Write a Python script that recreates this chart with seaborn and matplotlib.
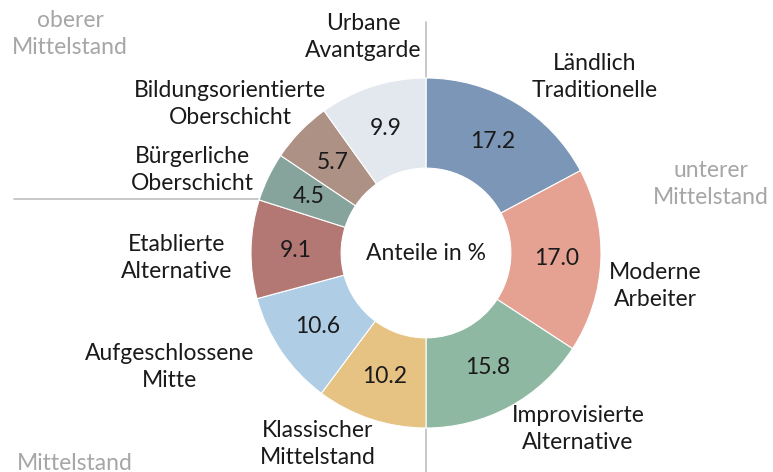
import seaborn as sns
import matplotlib.pyplot as plt

# data
segments = ["Ländlich\nTraditionelle", "Moderne\nArbeiter", "Improvisierte\nAlternative",
            "Klassischer\nMittelstand", "Aufgeschlossene\nMitte", "Etablierte\nAlternative",
            "Bürgerliche\nOberschicht", "Bildungsorientierte\nOberschicht", "Urbane\nAvantgarde"]
shares = [17.2, 17.0, 15.8, 10.2, 10.6, 9.1, 4.5, 5.7, 9.9]
colors = ["#7B96B6", "#E5A293", "#8FB8A2", "#E6C283", "#AFCDE4",
          "#B37873", "#86A39C", "#AE9185", "#E3E8EF"]
groups = ["oberer\nMittelstand", "unterer\nMittelstand", "Mittelstand"]

sns.set_theme(style="white")
plt.rcParams["font.family"] = ["Lato", "DejaVu Sans"]

W, H = 773, 472
fig = plt.figure(figsize=(W / 100, H / 100), dpi=100)
ax = fig.add_axes([0, 0, 1, 1])
ax.set_xlim(0, W)
ax.set_ylim(0, H)
ax.set_aspect("equal")
ax.axis("off")

def Y(y):
    return H - y

cx, cy, r = 426, 253, 175
fs = 16.5

# separator lines
sep = "#BFBFBF"
ax.plot([cx, cx], [Y(22), Y(90)], color=sep, lw=1.2, zorder=0)
ax.plot([cx, cx], [Y(420), Y(472)], color=sep, lw=1.2, zorder=0)
ax.plot([14, 258], [Y(199), Y(199)], color=sep, lw=1.2, zorder=0)

wedges, _, autotexts = ax.pie(shares, colors=colors, startangle=90, counterclock=False,
                              center=(cx, Y(cy)), radius=r, autopct="%.1f", pctdistance=0.745,
                              wedgeprops=dict(width=r * 0.515, edgecolor="white", linewidth=0.8),
                              textprops=dict(fontsize=fs, color="#1A1A1A"))
ax.set_xlim(0, W)
ax.set_ylim(0, H)

ax.text(cx, Y(cy), "Anteile in %", ha="center", va="center", fontsize=fs, color="#1A1A1A")

label_pos = [(595, 77), (655, 286), (578, 429), (318, 444), (170, 367),
             (177, 258), (192, 170), (230, 104), (363, 37)]
for name, (x, y) in zip(segments, label_pos):
    ax.text(x, Y(y), name, ha="center", va="center", fontsize=fs,
            color="#1A1A1A", linespacing=1.3)

group_pos = [(70, 34), (711, 184), (75, 463)]
for name, (x, y) in zip(groups, group_pos):
    ax.text(x, Y(y), name, ha="center", va="center", fontsize=fs,
            color="#A6A6A6", linespacing=1.3)

fig.savefig("out.png", dpi=100)
